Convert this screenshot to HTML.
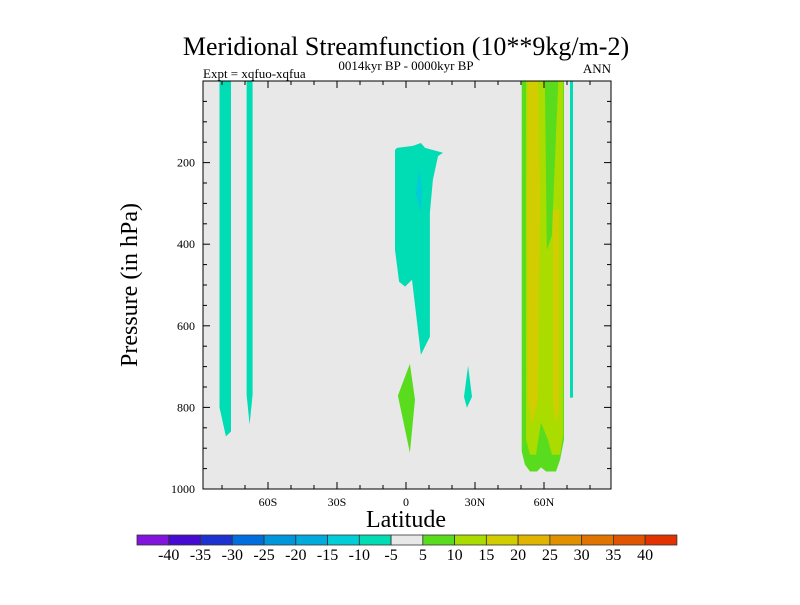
<!DOCTYPE html>
<html><head><meta charset="utf-8"><style>
body{margin:0;background:#fff;}
svg text{font-family:"Liberation Serif",serif;fill:#000;}
</style></head><body>
<svg id="c" width="800" height="600" xmlns="http://www.w3.org/2000/svg">
<text x="406" y="55" font-size="26" text-anchor="middle">Meridional Streamfunction (10**9kg/m-2)</text>
<text x="406" y="70" font-size="13" text-anchor="middle">0014kyr BP - 0000kyr BP</text>
<text x="203" y="78" font-size="13">Expt = xqfuo-xqfua</text>
<text x="611" y="73" font-size="13" text-anchor="end">ANN</text>
<text x="406" y="527" font-size="24" text-anchor="middle">Latitude</text>
<text transform="translate(137,285) rotate(-90)" font-size="24" text-anchor="middle">Pressure (in hPa)</text>
<g id="plot"></g><g id="axes"></g><g id="cbar"></g>
</svg>
<script>
const levelBounds=[-40,-35,-30,-25,-20,-15,-10,-5,5,10,15,20,25,30,35,40];
const levelColors=["#8214dc","#460ad2","#1e32d2","#006edc","#0096dc","#00aadc","#00cdd7","#00dcb4","#e8e8e8","#5adc1e","#aadc00","#d2cd00","#e1b400","#e19100","#e17300","#e15500","#e13200"];
const cbarLabels=["-40","-35","-30","-25","-20","-15","-10","-5","5","10","15","20","25","30","35","40"];
const xTickLabels=["60S","30S","0","30N","60N"];
const xTickValues=[-60,-30,0,30,60];
const yTickValues=[200,400,600,800,1000];
// contour regions: value, polygon [lat, hPa]
const regionValues=[-7,-7,-7,-12,7,-7,7,12,7,17,17,-7];
const regionNames=["strip-80s","strip-68s","tropical-cell","tropical-core","lower-tropical","strip-27n","midlat-outer","midlat-inner","midlat-core","midlat-max","midlat-max2","strip-72n"];
const regionShapes=[
[[-81.1,0],[-76.1,0],[-76.1,859],[-78.3,871],[-81.1,800]],
[[-69.3,0],[-66.7,0],[-66.7,769],[-68,842],[-69.3,769]],
[[-3.9,164],[-1.3,162],[3.0,159],[6.5,152],[8.3,164],[16.1,176],[13.9,184],[11.7,242],[10.4,323],[10.4,627],[6.5,671],[2.6,487],[-0.4,504],[-3.0,492],[-4.8,414],[-4.8,169]],
[[5.7,211],[7.0,267],[6.5,321],[4.3,279]],
[[1.7,693],[3.9,781],[1.7,911],[-3.5,771]],
[[27,698],[28.7,774],[26.5,801],[25.2,774]],
[[50.3,0],[50.3,908],[51.7,940],[53.9,957],[57,957],[58.7,947],[60.9,957],[65.2,957],[67,928],[68.7,879],[68.7,0]],
[[52.2,0],[52.2,879],[53.9,916],[56.5,916],[58.7,837],[61.7,879],[63.5,916],[67,916],[68.3,867],[68.3,0]],
[[60.4,0],[61.2,414],[63.4,380],[66.2,0]],
[[53,0],[57.4,0],[58.3,291],[57.4,781],[54.8,842],[53,781],[52.6,291]],
[[63.9,316],[66.5,316],[66.5,805],[65.2,842],[63.9,781]],
[[71.3,0],[72.6,0],[72.6,776],[71.3,776]]
];
const NS="http://www.w3.org/2000/svg";
const X0=203,X1=611,Y0=81,Y1=489;
const xs=lat=>406+lat*2.3;
const ys=p=>Y0+(p/1000)*(Y1-Y0);
function colorFor(v){let i=0;while(i<levelBounds.length&&v>=levelBounds[i])i++;return levelColors[i];}
function mk(tag,attrs,parent){const e=document.createElementNS(NS,tag);for(const k in attrs)e.setAttribute(k,attrs[k]);parent.appendChild(e);return e;}
const plot=document.getElementById('plot');
let bg=mk('rect',{x:X0,y:Y0,width:X1-X0,height:Y1-Y0,fill:'#e8e8e8'},plot);


regionShapes.forEach((pts,i)=>{
  const p=mk('polygon',{points:pts.map(q=>xs(q[0]).toFixed(1)+','+ys(q[1]).toFixed(1)).join(' '),fill:colorFor(regionValues[i])},plot);
  
  
});
const ax=document.getElementById('axes');
let fr=mk('rect',{x:X0,y:Y0,width:X1-X0,height:Y1-Y0,fill:'none',stroke:'#000','stroke-width':1},ax);


for(let lat=-80;lat<=80;lat+=10){
  const x=xs(lat),L=(lat%30===0)?7:4;
  mk('line',{x1:x,y1:Y1,x2:x,y2:Y1-L,stroke:'#000'},ax);
  mk('line',{x1:x,y1:Y0,x2:x,y2:Y0+L,stroke:'#000'},ax);
}
xTickValues.forEach((v,i)=>{
  const t=mk('text',{x:xs(v),y:Y1+17,'font-size':12,'text-anchor':'middle'},ax);t.textContent=xTickLabels[i];
  
  
});
for(let p=50;p<1000;p+=50){
  const y=ys(p),L=(p%200===0)?7:4;
  mk('line',{x1:X0,y1:y,x2:X0+L,y2:y,stroke:'#000'},ax);
  mk('line',{x1:X1,y1:y,x2:X1-L,y2:y,stroke:'#000'},ax);
}
yTickValues.forEach(v=>{
  const t=mk('text',{x:X0-8,y:ys(v)+4,'font-size':12,'text-anchor':'end'},ax);t.textContent=v;
  
  
});
const cb=document.getElementById('cbar');
const CX=137,CW=31.76,CY=535,CH=10;
levelColors.forEach((c,i)=>{
  const r=mk('rect',{x:CX+i*CW,y:CY,width:CW,height:CH,fill:c,stroke:'#333','stroke-width':0.8},cb);
  
  
});
cbarLabels.forEach((s,i)=>{
  const t=mk('text',{x:CX+(i+1)*CW,y:CY+25,'font-size':16,'text-anchor':'middle'},cb);t.textContent=s;
  
  
});
</script>
</body></html>
